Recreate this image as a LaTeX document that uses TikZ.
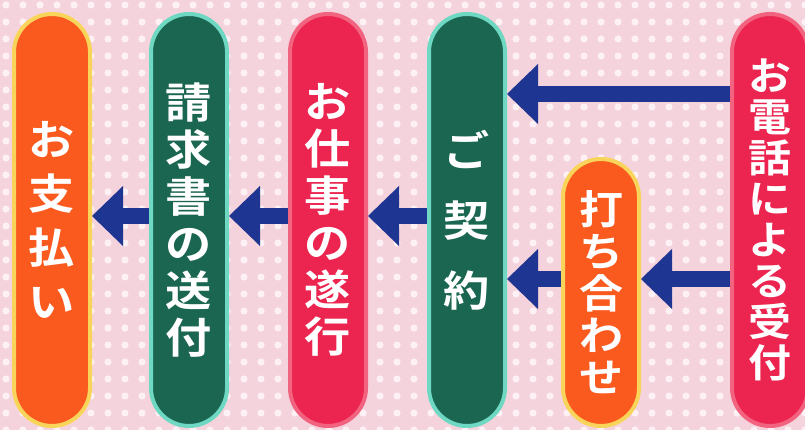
\documentclass[tikz,border=0pt]{standalone}
\usepackage{fontspec}
\newfontfamily\jpfont{Noto Sans CJK JP Bold}[FakeStretch=1.1]
\usetikzlibrary{arrows.meta}
\definecolor{bgpink}{HTML}{F5D3DC}
\definecolor{dotpink}{HTML}{FDF1F5}
\definecolor{orangefill}{HTML}{FA5A1E}
\definecolor{orangerim}{HTML}{F8D55A}
\definecolor{greenfill}{HTML}{1A6651}
\definecolor{greenrim}{HTML}{6ED8C2}
\definecolor{redfill}{HTML}{EC2550}
\definecolor{redrim}{HTML}{F2637F}
\definecolor{navy}{HTML}{1E3591}
\tikzset{
	pill/.style={rounded corners=38pt, minimum width=76pt, minimum height=412pt, line width=4pt,
		text=white, align=center, inner sep=0pt},
	orangepill/.style={pill, fill=orangefill, draw=orangerim},
	greenpill/.style={pill, fill=greenfill, draw=greenrim},
	redpill/.style={pill, fill=redfill, draw=redrim},
	flow/.style={navy, line width=16pt, -{Triangle[width=60pt, length=31pt, line width=0pt]}}
}
\begin{document}
\begin{tikzpicture}[x=1pt, y=-1pt]
	\useasboundingbox (0,0) rectangle (805,430);
	\clip (0,0) rectangle (805,430);
	\fill [bgpink] (0,0) rectangle (805,430);
	\foreach \i in {0,...,47} {
		\foreach \j in {0,...,25} {
			\fill [dotpink] (6+17*\i,5+17*\j) circle (3.6);
		}
	}
	\node [orangepill, font={\jpfont\fontsize{42}{54}\selectfont}] (shiharai) at (52,220) {お\\支\\払\\い};
	\node [greenpill, font={\jpfont\fontsize{42}{47}\selectfont}] (seikyu) at (189,220) {請\\求\\書\\の\\送\\付};
	\node [redpill, font={\jpfont\fontsize{42}{47}\selectfont}] (shigoto) at (328,220) {お\\仕\\事\\の\\遂\\行};
	\node [greenpill, font={\jpfont\fontsize{42}{70}\selectfont}] (keiyaku) at (467,220) {ご\\契\\約};
	\node [orangepill, minimum height=267pt, font={\jpfont\fontsize{40}{42}\selectfont}] (uchiawase) at (601,292.5) {打\\ち\\合\\わ\\せ};
	\node [redpill, font={\jpfont\fontsize{39}{41}\selectfont}] (denwa) at (770,220) {お\\電\\話\\に\\よ\\る\\受\\付};
	\coordinate (rowtop) at (0,94);
	\coordinate (rowmid) at (0,216);
	\coordinate (rowlow) at (0,279);
	\draw [flow] (denwa.west |- rowtop) -- (keiyaku.east |- rowtop);
	\draw [flow] (denwa.west |- rowlow) -- (uchiawase.east |- rowlow);
	\draw [flow] (uchiawase.west |- rowlow) -- (keiyaku.east |- rowlow);
	\draw [flow] (keiyaku.west |- rowmid) -- (shigoto.east |- rowmid);
	\draw [flow] (shigoto.west |- rowmid) -- (seikyu.east |- rowmid);
	\draw [flow] (seikyu.west |- rowmid) -- (shiharai.east |- rowmid);
\end{tikzpicture}
\end{document}
